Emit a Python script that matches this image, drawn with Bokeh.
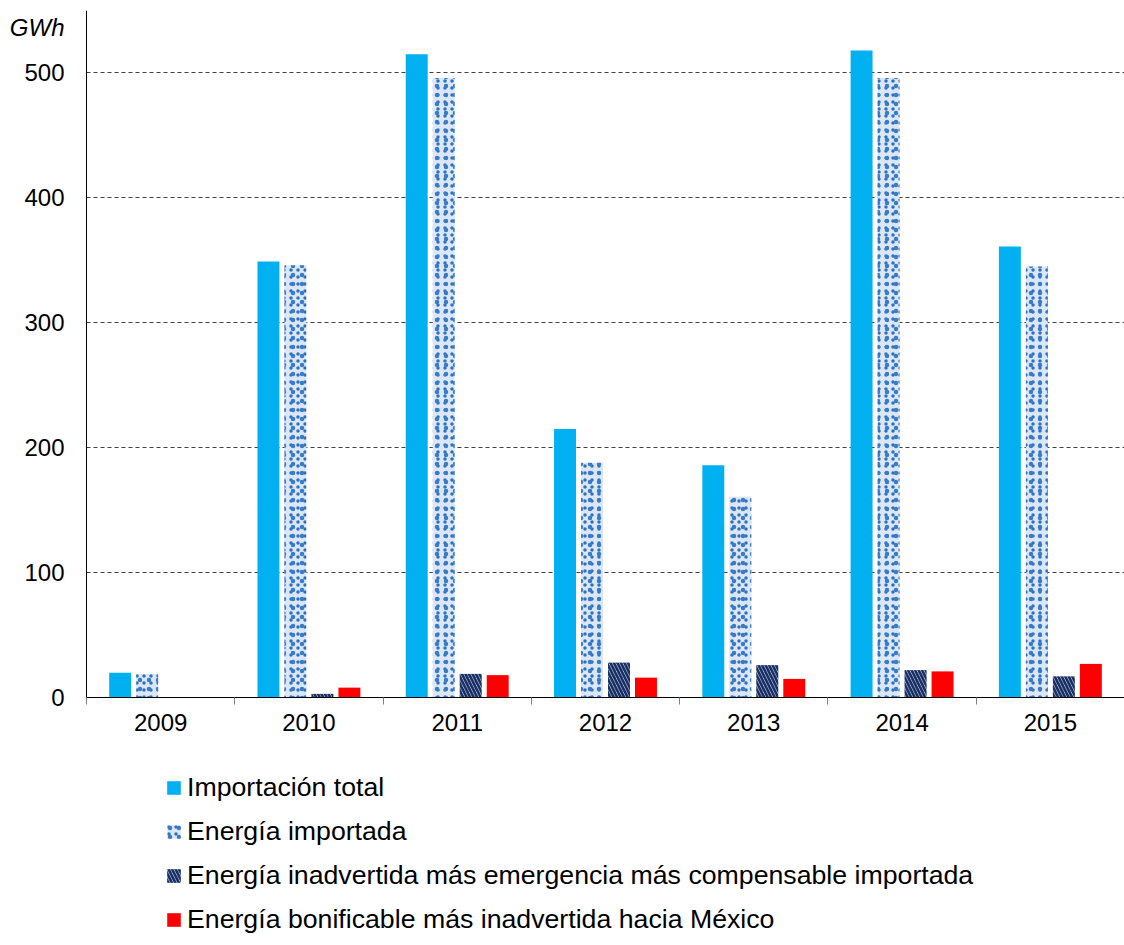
from bokeh.plotting import figure
from bokeh.models import (ColumnDataSource, Legend, LegendItem, FixedTicker, Range1d, Label)
from bokeh.transform import dodge
from bokeh.embed import file_html
from bokeh.resources import INLINE

years = ["2009", "2010", "2011", "2012", "2013", "2014", "2015"]
importacion_total = [20, 349, 515, 215, 186, 518, 361]
energia_importada = [19, 346, 496, 188, 161, 496, 345]
inadvertida_importada = [0, 3, 19, 28, 26, 22, 17]
bonificable_mexico = [0, 8, 18, 16, 15, 21, 27]
y_ticks = [0, 100, 200, 300, 400, 500]
unit_label = "GWh"

series_names = [
    "Importación total",
    "Energía importada",
    "Energía inadvertida más emergencia más compensable importada",
    "Energía bonificable más inadvertida hacia México",
]

n = len(years)
centers = [i + 0.5 for i in range(n)]
src = ColumnDataSource(dict(pos=centers, total=importacion_total, imp=energia_importada,
                            inad=inadvertida_importada, bon=bonificable_mexico))

FONT = "Liberation Sans"
Y_TOP = 550
Y_BOTTOM = -198.4   # room below the axis for the tick labels and the legend
X_LEFT = -0.58      # room left of the axis for the tick labels

p = figure(width=1124, height=945, output_backend="svg", toolbar_location=None,
           x_range=Range1d(X_LEFT, n), y_range=Range1d(Y_BOTTOM, Y_TOP),
           min_border_left=0, min_border_right=0, min_border_top=10, min_border_bottom=0)
p.outline_line_color = None
p.background_fill_color = "white"
p.border_fill_color = "white"
p.xgrid.visible = False

grid_ticks = [t for t in y_ticks if t > 0]
ygrid = p.ygrid[0]
if "cross_bounds" in type(ygrid).properties():
    ygrid.ticker = FixedTicker(ticks=grid_ticks)
    ygrid.cross_bounds = (0, n)
    ygrid.grid_line_color = "#404040"
    ygrid.grid_line_dash = "4 3"
    ygrid.grid_line_width = 1
else:
    ygrid.visible = False
    p.segment(x0=[0] * len(grid_ticks), x1=[n] * len(grid_ticks), y0=grid_ticks,
              y1=grid_ticks, line_color="#404040", line_dash="4 3", line_width=1)

bw = 0.148
step = 0.182
r1 = p.vbar(x=dodge("pos", -1.5 * step), top="total", width=bw, source=src,
            fill_color="#00b0f0", line_color=None)
r2 = p.vbar(x=dodge("pos", -0.5 * step), top="imp", width=bw, source=src,
            fill_color="#dbe7f6", line_color=None,
            hatch_pattern=".", hatch_color="#2f6fbf", hatch_scale=7, hatch_weight=4)
# second, offset dot layer on the same bars to give a confetti-like texture
r2b = p.vbar(x=dodge("pos", -0.5 * step), top="imp", width=bw, source=src,
             fill_alpha=0, line_color=None,
             hatch_pattern=".", hatch_color="#3a7bc8", hatch_scale=9, hatch_weight=4)
r3 = p.vbar(x=dodge("pos", 0.5 * step), top="inad", width=bw, source=src,
            fill_color="#c5d3ea", line_color=None,
            hatch_pattern="\\", hatch_color="#1a2f63", hatch_scale=7, hatch_weight=2.6)
r4 = p.vbar(x=dodge("pos", 1.5 * step), top="bon", width=bw, source=src,
            fill_color="#ff0000", line_color=None)

# x axis, pinned at y = 0
xax = p.xaxis[0]
xax.fixed_location = 0
xax.bounds = (0, n)
xax.ticker = FixedTicker(ticks=centers, minor_ticks=list(range(n + 1)))
xax.major_label_overrides = {c: y for c, y in zip(centers, years)}
xax.major_tick_out = 0
xax.major_tick_in = 0
xax.minor_tick_out = 7
xax.minor_tick_in = 0
xax.minor_tick_line_color = "#808080"
xax.axis_line_color = "black"
xax.major_label_standoff = 9
xax.major_label_text_font = FONT
xax.major_label_text_font_size = "24px"
xax.major_label_text_color = "black"

# y axis, pinned at x = 0
yax = p.yaxis[0]
yax.fixed_location = 0
yax.bounds = (0, Y_TOP)
yax.ticker = FixedTicker(ticks=y_ticks, minor_ticks=[])
yax.major_tick_out = 0
yax.major_tick_in = 0
yax.minor_tick_out = 0
yax.axis_line_color = "black"
yax.major_label_standoff = 22
yax.major_label_text_font = FONT
yax.major_label_text_font_size = "24px"
yax.major_label_text_color = "black"

p.add_layout(Label(x=0, y=536, x_offset=-22, text=unit_label, text_align="right",
                   text_baseline="middle", text_font=FONT, text_font_style="italic",
                   text_font_size="24px", text_color="black"))

legend = Legend(items=[LegendItem(label=series_names[0], renderers=[r1]),
                       LegendItem(label=series_names[1], renderers=[r2, r2b]),
                       LegendItem(label=series_names[2], renderers=[r3]),
                       LegendItem(label=series_names[3], renderers=[r4])],
                location=(165, 10), orientation="vertical",
                padding=0, margin=0, spacing=13, label_height=31, glyph_height=17,
                glyph_width=17, label_standoff=5, border_line_color=None,
                background_fill_alpha=0, label_text_font=FONT,
                label_text_font_size="26.7px", label_text_color="black")
p.add_layout(legend, "center")

open("out.html", "w").write(file_html(p, INLINE))
